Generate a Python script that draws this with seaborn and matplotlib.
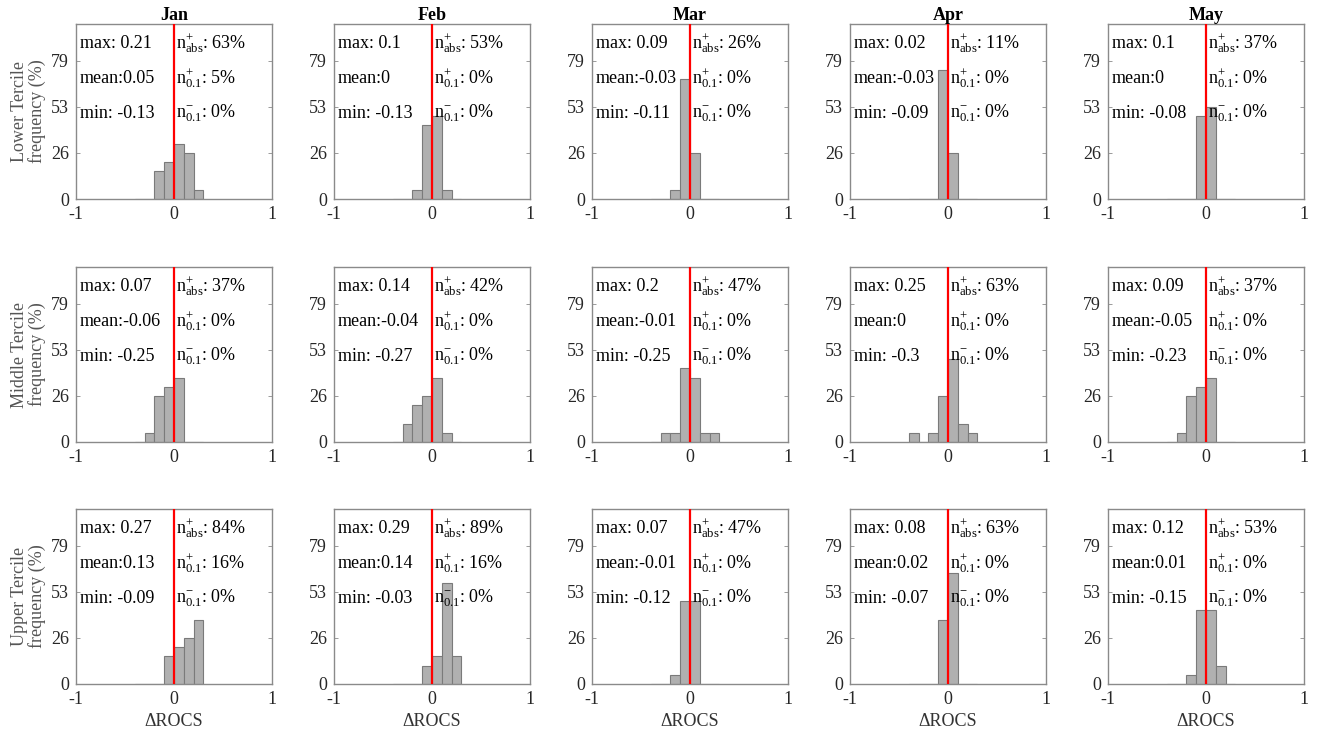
import numpy as np
import matplotlib
matplotlib.use("Agg")
import matplotlib.pyplot as plt
import seaborn as sns

# months and terciles
months = ["Jan", "Feb", "Mar", "Apr", "May"]
terciles = ["Lower Tercile", "Middle Tercile", "Upper Tercile"]

# histogram bin edges for dROCS (bin width 0.1)
bin_edges = [-0.4, -0.3, -0.2, -0.1, 0.0, 0.1, 0.2, 0.3]
bin_centers = [-0.35, -0.25, -0.15, -0.05, 0.05, 0.15, 0.25]

# frequency (%) of each bin, one list per month
freq_lower = [
    [0, 0, 15.8, 21.1, 31.6, 26.3, 5.3],
    [0, 0, 5.3, 42.1, 47.4, 5.3, 0],
    [0, 0, 5.3, 68.4, 26.3, 0, 0],
    [0, 0, 0, 73.7, 26.3, 0, 0],
    [0, 0, 0, 47.4, 52.6, 0, 0],
]
freq_middle = [
    [0, 5.3, 26.3, 31.6, 36.8, 0, 0],
    [0, 10.5, 21.1, 26.3, 36.8, 5.3, 0],
    [0, 5.3, 5.3, 42.1, 36.8, 5.3, 5.3],
    [5.3, 0, 5.3, 26.3, 47.4, 10.5, 5.3],
    [0, 5.3, 26.3, 31.6, 36.8, 0, 0],
]
freq_upper = [
    [0, 0, 0, 15.8, 21.1, 26.3, 36.8],
    [0, 0, 0, 10.5, 15.8, 57.9, 15.8],
    [0, 0, 5.3, 47.4, 47.4, 0, 0],
    [0, 0, 0, 36.8, 63.2, 0, 0],
    [0, 0, 5.3, 42.1, 42.1, 10.5, 0],
]

# statistics printed in each panel
max_lower = ["0.21", "0.1", "0.09", "0.02", "0.1"]
mean_lower = ["0.05", "0", "-0.03", "-0.03", "0"]
min_lower = ["-0.13", "-0.13", "-0.11", "-0.09", "-0.08"]
nabs_lower = [63, 53, 26, 11, 37]
npos_lower = [5, 0, 0, 0, 0]
nneg_lower = [0, 0, 0, 0, 0]

max_middle = ["0.07", "0.14", "0.2", "0.25", "0.09"]
mean_middle = ["-0.06", "-0.04", "-0.01", "0", "-0.05"]
min_middle = ["-0.25", "-0.27", "-0.25", "-0.3", "-0.23"]
nabs_middle = [37, 42, 47, 63, 37]
npos_middle = [0, 0, 0, 0, 0]
nneg_middle = [0, 0, 0, 0, 0]

max_upper = ["0.27", "0.29", "0.07", "0.08", "0.12"]
mean_upper = ["0.13", "0.14", "-0.01", "0.02", "0.01"]
min_upper = ["-0.09", "-0.03", "-0.12", "-0.07", "-0.15"]
nabs_upper = [84, 89, 47, 63, 53]
npos_upper = [16, 16, 0, 0, 0]
nneg_upper = [0, 0, 0, 0, 0]

y_ticks = [0, 26, 53, 79]
y_tick_pos = [0, 26.3, 52.6, 78.9]

freqs = [freq_lower, freq_middle, freq_upper]
stats = [
    (max_lower, mean_lower, min_lower, nabs_lower, npos_lower, nneg_lower),
    (max_middle, mean_middle, min_middle, nabs_middle, npos_middle, nneg_middle),
    (max_upper, mean_upper, min_upper, nabs_upper, npos_upper, nneg_upper),
]

sns.set_theme(style="white")
plt.rcParams["font.family"] = ["Liberation Serif", "DejaVu Serif"]
plt.rcParams["mathtext.fontset"] = "custom"
plt.rcParams["mathtext.rm"] = "Liberation Serif"
plt.rcParams["mathtext.it"] = "Liberation Serif:italic"

W, H = 1326, 742
fig = plt.figure(figsize=(W / 100, H / 100), dpi=100)
fig.patch.set_facecolor("white")

lefts = [76, 334, 592, 850, 1108]
tops = [24, 267, 509]
aw, ah = 196, 175
spine_c = "#8a8a8a"
txt_c = "#262626"
fs = 13

for r in range(3):
    mx, mn_, mi, nabs, npos, nneg = stats[r]
    for c in range(5):
        ax = fig.add_axes([lefts[c] / W, 1 - (tops[r] + ah) / H, aw / W, ah / H])
        sns.histplot(x=bin_centers, weights=freqs[r][c], bins=bin_edges, ax=ax,
                     color="#b0b0b0", edgecolor="#7a7a7a", linewidth=0.8, alpha=1)
        ax.axvline(0, color="red", lw=1.6, zorder=3)
        ax.set_xlim(-1, 1)
        ax.set_ylim(0, 100)
        ax.set_xticks([-1, 0, 1])
        ax.set_xticklabels(["-1", "0", "1"])
        ax.set_yticks(y_tick_pos)
        ax.set_yticklabels([str(v) for v in y_ticks])
        ax.tick_params(direction="in", length=3, width=0.6, color=spine_c,
                       labelsize=fs, labelcolor=txt_c, top=True, right=True,
                       bottom=True, left=True, pad=5)
        for s in ax.spines.values():
            s.set_color(spine_c)
            s.set_linewidth(1.0)
        ax.set_ylabel("")
        if c == 0:
            ax.set_ylabel(terciles[r] + "\nfrequency (%)", fontsize=fs,
                          color="#555555", labelpad=4, linespacing=1.0)
        if r == 0:
            ax.set_title(months[c], fontsize=fs, fontweight="bold", pad=3, color="black")
        if r == 2:
            ax.set_xlabel("\u0394ROCS", fontsize=fs, color="#333333", labelpad=4)

        kw = dict(transform=ax.transAxes, fontsize=fs, color="black",
                  va="center", ha="left", zorder=5)
        ax.text(0.02, 0.89, "max: " + mx[c], **kw)
        ax.text(0.02, 0.69, "mean:" + mn_[c], **kw)
        ax.text(0.02, 0.49, "min: " + mi[c], **kw)
        ax.text(0.51, 0.89, r"$\mathrm{n^{+}_{abs}}$: %d%%" % nabs[c], **kw)
        ax.text(0.51, 0.69, r"$\mathrm{n^{+}_{0.1}}$: %d%%" % npos[c], **kw)
        ax.text(0.51, 0.49, r"$\mathrm{n^{-}_{0.1}}$: %d%%" % nneg[c], **kw)

fig.savefig("out.png", dpi=100, facecolor="white")
